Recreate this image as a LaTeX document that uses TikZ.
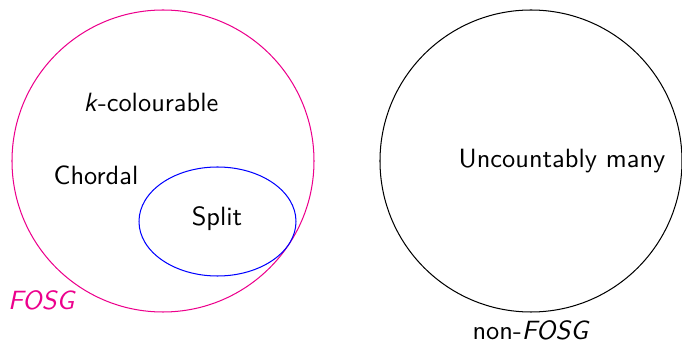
\documentclass[tikz,border=0pt]{standalone}
\usepackage{fontspec}
\usetikzlibrary{shapes.geometric}
\renewcommand{\familydefault}{\sfdefault}
\definecolor{fosgpink}{RGB}{236,0,140}
\begin{document}
\begin{tikzpicture}[x=0.39pt,y=-0.39pt,
  setlabel/.style={inner sep=0pt, font=\sffamily\fontsize{10.3}{12}\selectfont},
  classring/.style={circle, draw, minimum size=302*0.39pt, inner sep=0pt, line width=0.4pt}]
  \useasboundingbox (0,0) rectangle (682,342);
  % first-order sentence graphs
  \node[classring, draw=fosgpink] (fosg) at (163,161) {};
  % split graphs sit inside, touching the outer ring
  \node[ellipse, draw=blue, minimum width=157*0.39pt, minimum height=109*0.39pt,
        inner sep=0pt, line width=0.4pt] (split) at (217.5,221.5) {};
  % everything else
  \node[classring, draw=black] (nonfosg) at (531,161) {};

  \node[setlabel] (kcol) at (151,102) {\textit{k}-colourable};
  \node[setlabel] (chordal) at (96,175) {Chordal};
  \node[setlabel] (splitlbl) at (217,219) {Split};
  \node[setlabel, text=fosgpink] (fosglbl) at (42,300) {\textit{FOSG}};
  \node[setlabel] (unc) at (562,161) {Uncountably many};
  \node[setlabel] (nonlbl) at (531,330) {non-\textit{FOSG}};
\end{tikzpicture}
\end{document}
